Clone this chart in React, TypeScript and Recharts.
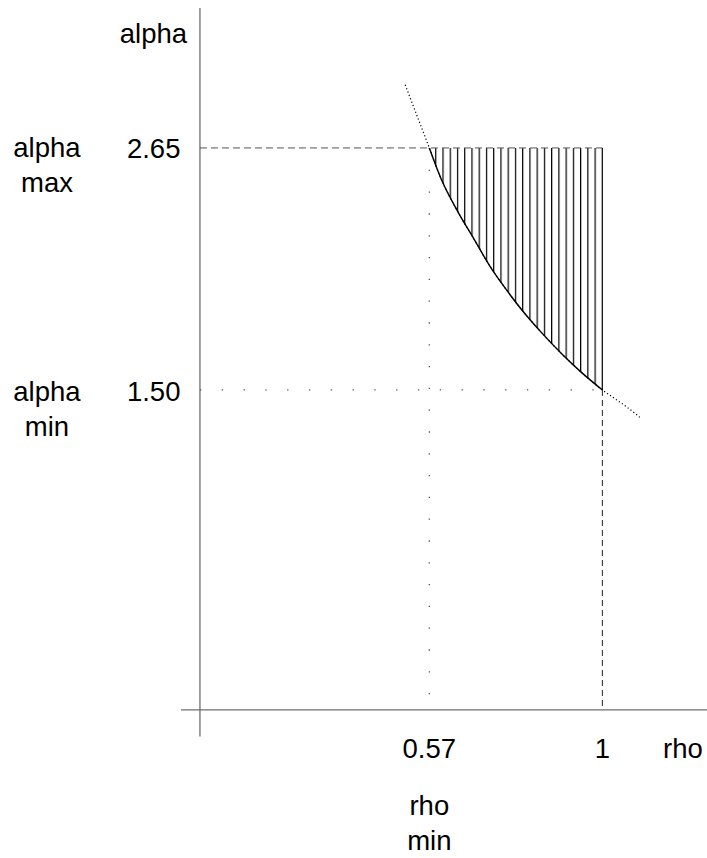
import React from 'react';
import { ComposedChart, Line, Area, XAxis, YAxis, ReferenceLine, ReferenceDot } from 'recharts';

// feasible region bounds
const RHO_MIN = 0.57;
const RHO_MAX = 1;
const ALPHA_MIN = 1.5;
const ALPHA_MAX = 2.65;

// curve (dotted outside [RHO_MIN, RHO_MAX])
const rhoValues = [0.51, 0.54, 0.57, 0.6, 0.64, 0.68, 0.72, 0.76, 0.8, 0.85, 0.9, 0.95, 1.0, 1.03, 1.06, 1.093];
const alphaValues = [2.95, 2.8, 2.65, 2.5, 2.35, 2.22, 2.09, 1.98, 1.88, 1.77, 1.67, 1.58, 1.5, 1.46, 1.42, 1.37];

const rhoTickLabels = ['0.57', '1'];
const alphaTickLabels = ['2.65', '1.50'];

const W = 707;
const H = 858;
const M = 8; // plot offset, same as the page margin
const X_DOMAIN: [number, number] = [-0.477, 1.26];
const Y_DOMAIN: [number, number] = [-0.724, 3.315];
const AXIS_ALPHA = -0.02; // where the rho axis sits
const RHO_AXIS_START = -0.047;
const ALPHA_AXIS_END = -0.147;
const RHO_TITLE_AT = 1.2;
const HATCH_STEP = 0.018;

const curveData = rhoValues.map((rho, i) => ({ rho, alpha: alphaValues[i] }));
const solidData = curveData.filter((d) => d.rho >= RHO_MIN && d.rho <= RHO_MAX);

const pxPerRho = (W - M) / (X_DOMAIN[1] - X_DOMAIN[0]);
const hatchW = HATCH_STEP * pxPerRho;
const hatchX = M + (RHO_MAX - X_DOMAIN[0]) * pxPerRho;

const FONT = '"Liberation Sans", Arial, Helvetica, sans-serif';

const textLabel =
  (lines: string[], dx: number, dy: number, anchor: 'start' | 'middle' | 'end' = 'middle') =>
  (props: any) => {
    const vb = props.viewBox || { x: 0, y: 0 };
    const x = vb.x + dx;
    return (
      <text x={x} y={vb.y + dy} textAnchor={anchor} fontSize={27.5} fontFamily={FONT} fill="#000">
        {lines.map((line, i) => (
          <tspan key={i} x={x} dy={i === 0 ? 0 : 35}>
            {line}
          </tspan>
        ))}
      </text>
    );
  };

const axisStroke = '#6e6e6e';
const guideStroke = '#555';

export default function App() {
  return (
    <div style={{ position: 'absolute', left: 0, top: 0, width: W, height: H, overflow: 'hidden' }}>
      <style>{'html, body { overflow: hidden; }'}</style>
      <ComposedChart width={W} height={H} margin={{ top: M, right: 0, bottom: 0, left: M }}>
        <defs>
          <pattern id="hatch" patternUnits="userSpaceOnUse" x={hatchX - 0.6} y={0} width={hatchW} height={10}>
            <rect x={0} y={0} width={1.2} height={10} fill="#000" />
          </pattern>
        </defs>
        <XAxis type="number" dataKey="rho" domain={X_DOMAIN} hide allowDataOverflow />
        <YAxis type="number" domain={Y_DOMAIN} hide allowDataOverflow />

        {/* hatched feasible region between curve and alpha max */}
        <Area
          data={solidData}
          dataKey="alpha"
          type="monotone"
          baseValue={ALPHA_MAX}
          fill="url(#hatch)"
          fillOpacity={1}
          stroke="none"
          isAnimationActive={false}
        />

        {/* axes */}
        <ReferenceLine
          segment={[{ x: 0, y: ALPHA_AXIS_END }, { x: 0, y: Y_DOMAIN[1] }]}
          stroke={axisStroke}
          strokeWidth={1.3}
          ifOverflow="visible"
        />
        <ReferenceLine
          segment={[{ x: RHO_AXIS_START, y: AXIS_ALPHA }, { x: X_DOMAIN[1], y: AXIS_ALPHA }]}
          stroke={axisStroke}
          strokeWidth={1.3}
          ifOverflow="visible"
        />

        {/* guides */}
        <ReferenceLine
          segment={[{ x: 0, y: ALPHA_MAX }, { x: RHO_MAX, y: ALPHA_MAX }]}
          stroke={guideStroke}
          strokeDasharray="7 4"
          ifOverflow="visible"
        />
        <ReferenceLine
          segment={[{ x: 0, y: ALPHA_MIN }, { x: RHO_MAX, y: ALPHA_MIN }]}
          stroke={guideStroke}
          strokeWidth={1.3}
          strokeDasharray="1.3 20.5"
          ifOverflow="visible"
        />
        <ReferenceLine
          segment={[{ x: RHO_MIN, y: ALPHA_MAX }, { x: RHO_MIN, y: AXIS_ALPHA }]}
          stroke={guideStroke}
          strokeWidth={1.3}
          strokeDasharray="1.3 20.5"
          ifOverflow="visible"
        />
        <ReferenceLine
          segment={[{ x: RHO_MAX, y: ALPHA_MIN }, { x: RHO_MAX, y: AXIS_ALPHA }]}
          stroke="#222"
          strokeDasharray="6 4"
          ifOverflow="visible"
        />
        <ReferenceLine
          segment={[{ x: RHO_MAX, y: ALPHA_MIN }, { x: RHO_MAX, y: ALPHA_MAX }]}
          stroke="#000"
          ifOverflow="visible"
        />

        {/* curve */}
        <Line
          data={curveData}
          dataKey="alpha"
          type="monotone"
          stroke="#000"
          strokeWidth={1.2}
          strokeDasharray="1.2 2.4"
          dot={false}
          activeDot={false}
          isAnimationActive={false}
        />
        <Line
          data={solidData}
          dataKey="alpha"
          type="monotone"
          stroke="#000"
          strokeWidth={1.4}
          dot={false}
          activeDot={false}
          isAnimationActive={false}
        />

        {/* labels */}
        <ReferenceDot x={0} y={Y_DOMAIN[1]} r={0} ifOverflow="visible" label={textLabel(['alpha'], -46.5, 35)} />
        <ReferenceDot x={0} y={ALPHA_MAX} r={0} ifOverflow="visible" label={textLabel([alphaTickLabels[0]], -19.5, 10, 'end')} />
        <ReferenceDot x={0} y={ALPHA_MAX} r={0} ifOverflow="visible" label={textLabel(['alpha', 'max'], -153, 9)} />
        <ReferenceDot x={0} y={ALPHA_MIN} r={0} ifOverflow="visible" label={textLabel([alphaTickLabels[1]], -19.5, 11, 'end')} />
        <ReferenceDot x={0} y={ALPHA_MIN} r={0} ifOverflow="visible" label={textLabel(['alpha', 'min'], -153, 11)} />
        <ReferenceDot x={RHO_MIN} y={AXIS_ALPHA} r={0} ifOverflow="visible" label={textLabel([rhoTickLabels[0]], 0, 48.5)} />
        <ReferenceDot x={RHO_MAX} y={AXIS_ALPHA} r={0} ifOverflow="visible" label={textLabel([rhoTickLabels[1]], 0, 48.5)} />
        <ReferenceDot x={RHO_TITLE_AT} y={AXIS_ALPHA} r={0} ifOverflow="visible" label={textLabel(['rho'], 0, 48.5)} />
        <ReferenceDot x={RHO_MIN} y={AXIS_ALPHA} r={0} ifOverflow="visible" label={textLabel(['rho', 'min'], 0, 105)} />
      </ComposedChart>
    </div>
  );
}
